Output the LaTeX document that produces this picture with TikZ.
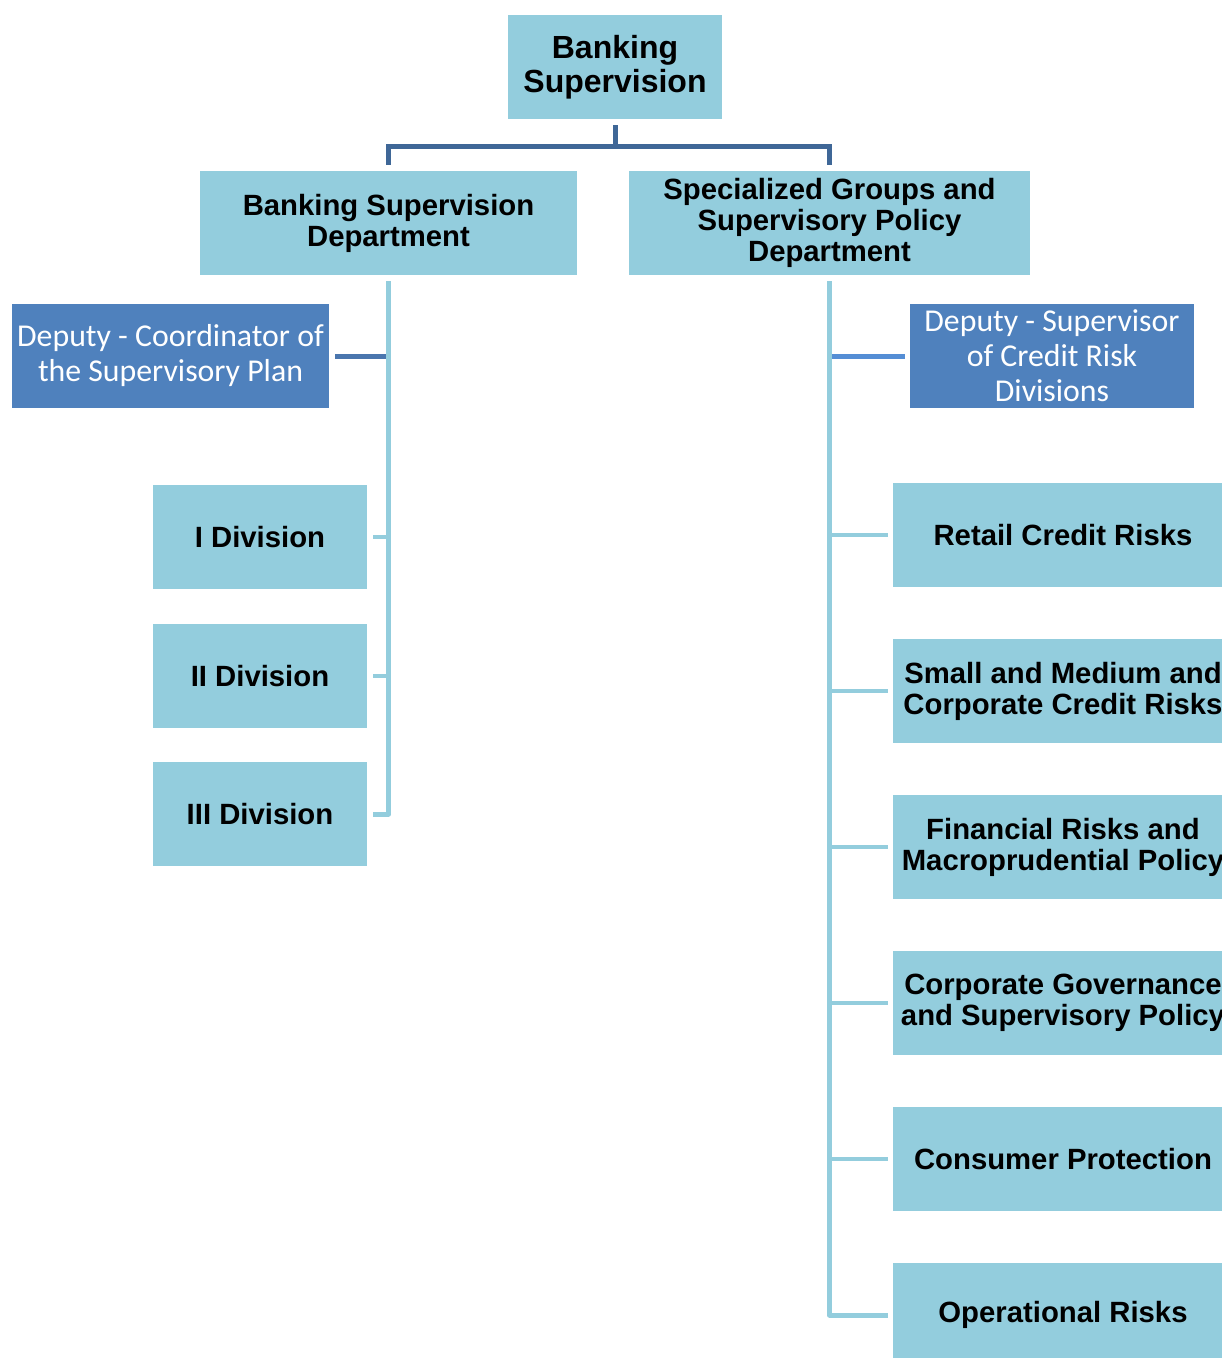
\documentclass[tikz,border=0pt]{standalone}
\usepackage{fontspec}
\setmainfont{Liberation Sans}
\newfontfamily\deputyfont{Carlito}
\definecolor{boxblue}{HTML}{93CDDD}
\definecolor{deputyblue}{HTML}{4F81BD}
\definecolor{hubline}{HTML}{3F6797}
\definecolor{leftdepline}{HTML}{4A76AE}
\definecolor{rightdepline}{HTML}{558ED5}
\begin{document}
\begin{tikzpicture}[x=1pt,y=-1pt,
  unitbox/.style={fill=boxblue, inner sep=0pt, minimum height=104pt, align=center,
    font=\bfseries\fontsize{29.3}{31}\selectfont},
  deputybox/.style={fill=deputyblue, text=white, inner sep=0pt, minimum height=104pt,
    align=center, font=\deputyfont\fontsize{31.8}{35}\selectfont},
  hubedge/.style={draw=hubline, line width=5pt},
  trunk/.style={draw=boxblue, line width=5pt},
  tick/.style={draw=boxblue, line width=4.5pt},
  depedge/.style={line width=5pt}]
\useasboundingbox (0,0) rectangle (1222,1358);
\clip (0,0) rectangle (1222,1358);

% top level and departments
\node[unitbox, minimum width=214pt, font=\bfseries\fontsize{32}{34}\selectfont]
  (top) at (615,67) {Banking\\Supervision};
\node[unitbox, minimum width=377pt] (bsd) at (388.5,223) {Banking Supervision\\Department};
\node[unitbox, minimum width=401pt] (sgd) at (829.5,223)
  {Specialized Groups and\\Supervisory Policy\\Department};

\coordinate (hub) at (615,146);
\draw[hubedge] ([yshift=-6pt]top.south) -- (hub);
\draw[hubedge] ([yshift=6pt]bsd.north) |- (hub) -| ([yshift=6pt]sgd.north);

% deputies
\node[deputybox, minimum width=317pt] (dep1) at (170.5,356) {Deputy - Coordinator of\\the Supervisory Plan};
\node[deputybox, minimum width=284pt] (dep2) at (1052,356) {Deputy - Supervisor\\of Credit Risk\\Divisions};

% left branch divisions
\node[unitbox, minimum width=214pt] (d1) at (260,537) {I Division};
\node[unitbox, minimum width=214pt] (d2) at (260,676) {II Division};
\node[unitbox, minimum width=214pt] (d3) at (260,814) {III Division};

% right branch units
\node[unitbox, minimum width=340pt] (r1) at (1063,535) {Retail Credit Risks};
\node[unitbox, minimum width=340pt] (r2) at (1063,691) {Small and Medium and\\Corporate Credit Risks};
\node[unitbox, minimum width=340pt] (r3) at (1063,847) {Financial Risks and\\Macroprudential Policy};
\node[unitbox, minimum width=340pt] (r4) at (1063,1003) {Corporate Governance\\and Supervisory Policy};
\node[unitbox, minimum width=340pt] (r5) at (1063,1159) {Consumer Protection};
\node[unitbox, minimum width=340pt] (r6) at (1063,1315) {Operational Risks};

% left trunk and ticks
\coordinate (ltop) at ([yshift=-6pt]bsd.south);
\coordinate (lend) at (ltop |- d3.east);
\draw[trunk, line join=round] (ltop) -- (lend) -- ([xshift=6pt]d3.east);
\draw[tick] ([xshift=6pt]d1.east) -- (ltop |- d1.east);
\draw[tick] ([xshift=6pt]d2.east) -- (ltop |- d2.east);
\draw[depedge, draw=leftdepline] ([xshift=6pt]dep1.east) -- ([xshift=-2.5pt]ltop |- dep1.east);

% right trunk and ticks
\coordinate (rtop) at ([yshift=-6pt]sgd.south);
\coordinate (rend) at (rtop |- r6.west);
\draw[trunk, line join=round] (rtop) -- (rend) -- ([xshift=-5pt]r6.west);
\foreach \u in {r1,r2,r3,r4,r5}
  \draw[tick] (rtop |- \u.west) -- ([xshift=-5pt]\u.west);
\draw[depedge, draw=rightdepline] ([xshift=2.5pt]rtop |- dep2.west) -- ([xshift=-5pt]dep2.west);
\end{tikzpicture}
\end{document}
